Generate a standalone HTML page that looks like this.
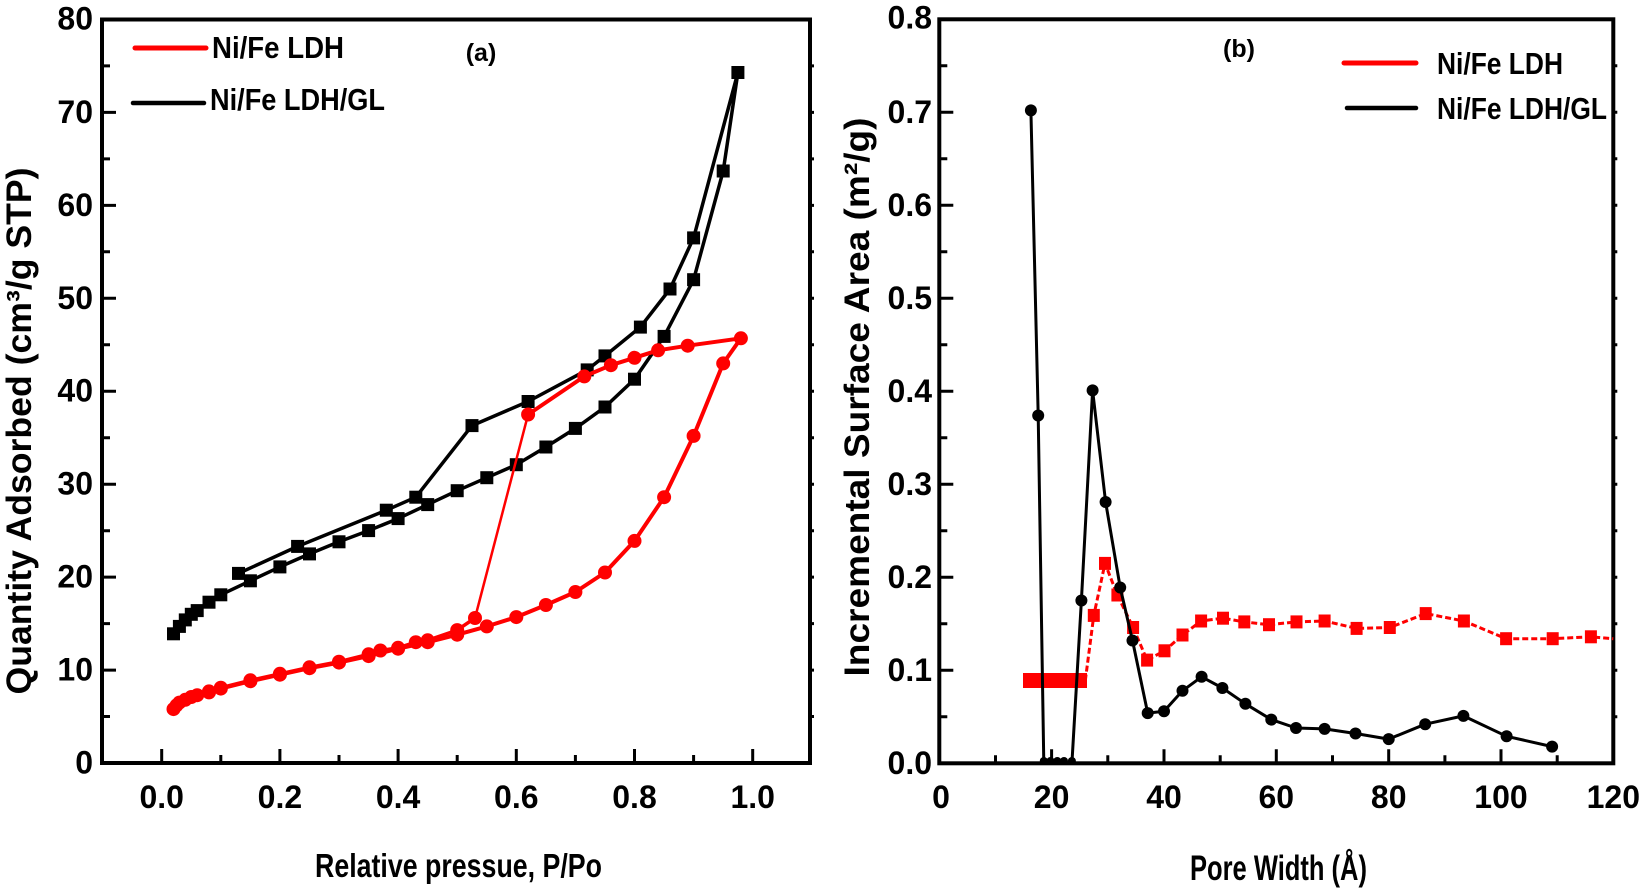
<!DOCTYPE html>
<html><head><meta charset="utf-8"><style>
html,body{margin:0;padding:0;background:#fff;}
svg{display:block;}
text{font-family:"Liberation Sans",Arial,sans-serif;font-weight:bold;fill:#000;}
</style></head><body>
<svg width="1645" height="888" viewBox="0 0 1645 888" xmlns="http://www.w3.org/2000/svg">
<rect width="1645" height="888" fill="#fff"/>

<!-- ================= PANEL A ================= -->
<rect x="102" y="19.5" width="708" height="743.5" fill="none" stroke="#000" stroke-width="4"/>
<g stroke="#000" stroke-width="3" fill="none">
<path d="M161.7 763v-14M279.9 763v-14M398.1 763v-14M516.3 763v-14M634.5 763v-14M752.7 763v-14"/>
<path d="M220.8 763v-8M339 763v-8M457.2 763v-8M575.4 763v-8M693.6 763v-8"/>
<path d="M102 670.1h14M102 577.1h14M102 484.2h14M102 391.2h14M102 298.3h14M102 205.4h14M102 112.4h14"/>
<path d="M102 716.5h8M102 623.6h8M102 530.7h8M102 437.7h8M102 344.8h8M102 251.8h8M102 158.9h8M102 65.9h8"/>
<path d="M810 716.5h4M810 670.1h4M810 623.6h4M810 577.1h4M810 530.7h4M810 484.2h4M810 437.7h4M810 391.2h4M810 344.8h4M810 298.3h4M810 251.8h4M810 205.4h4M810 158.9h4M810 112.4h4M810 65.9h4"/>
</g>
<g font-size="32" text-anchor="end">
<text x="93" y="773.5">0</text>
<text x="93" y="680.6">10</text>
<text x="93" y="587.6">20</text>
<text x="93" y="494.7">30</text>
<text x="93" y="401.7">40</text>
<text x="93" y="308.8">50</text>
<text x="93" y="215.9">60</text>
<text x="93" y="122.9">70</text>
<text x="93" y="29.5">80</text>
</g>
<g font-size="32" text-anchor="middle">
<text x="161.7" y="808">0.0</text>
<text x="279.9" y="808">0.2</text>
<text x="398.1" y="808">0.4</text>
<text x="516.3" y="808">0.6</text>
<text x="634.5" y="808">0.8</text>
<text x="752.7" y="808">1.0</text>
</g>
<text x="315" y="877" font-size="33" textLength="287" lengthAdjust="spacingAndGlyphs">Relative pressue, P/Po</text>
<text transform="translate(31,431) rotate(-90)" font-size="35" text-anchor="middle" textLength="527" lengthAdjust="spacingAndGlyphs">Quantity Adsorbed (cm³/g STP)</text>

<!-- legend a -->
<line x1="135" y1="48" x2="206" y2="48" stroke="#f00" stroke-width="5" stroke-linecap="round"/>
<text x="212" y="58" font-size="31" textLength="132" lengthAdjust="spacingAndGlyphs">Ni/Fe LDH</text>
<line x1="133" y1="103" x2="204" y2="103" stroke="#000" stroke-width="4.5" stroke-linecap="round"/>
<text x="210" y="110" font-size="31" textLength="175" lengthAdjust="spacingAndGlyphs">Ni/Fe LDH/GL</text>
<text x="481" y="61" font-size="25" text-anchor="middle">(a)</text>

<!-- black GL series panel a -->
<polyline fill="none" stroke="#000" stroke-width="3.5" stroke-linejoin="round" points="173.5,633.8 179.4,626.4 185.3,619.9 191.3,614.3 197.2,610.6 209,602.2 220.8,594.8 250.4,580.8 279.9,566.9 309.5,553.9 339,541.8 368.6,530.6 398.1,518.6 427.7,504.6 457.2,490.7 486.8,477.7 516.3,464.7 545.9,447 575.4,428.4 605,407 634.5,379.2 664.1,336.4 693.6,279.7 723.2,171 737.9,72.5 693.6,237.9 670,289 640.4,327.1 605,355.9 587.2,369.9 528.1,401.5 472,425.6 415.8,497.2 386.3,510.2 297.6,546.4 238.5,573.4"/>
<g fill="#000">
<rect x="167" y="627.3" width="13" height="13"/>
<rect x="172.9" y="619.9" width="13" height="13"/>
<rect x="178.8" y="613.4" width="13" height="13"/>
<rect x="184.8" y="607.8" width="13" height="13"/>
<rect x="190.7" y="604.1" width="13" height="13"/>
<rect x="202.5" y="595.7" width="13" height="13"/>
<rect x="214.3" y="588.3" width="13" height="13"/>
<rect x="243.9" y="574.3" width="13" height="13"/>
<rect x="273.4" y="560.4" width="13" height="13"/>
<rect x="303" y="547.4" width="13" height="13"/>
<rect x="332.5" y="535.3" width="13" height="13"/>
<rect x="362.1" y="524.1" width="13" height="13"/>
<rect x="391.6" y="512.1" width="13" height="13"/>
<rect x="421.2" y="498.1" width="13" height="13"/>
<rect x="450.7" y="484.2" width="13" height="13"/>
<rect x="480.3" y="471.2" width="13" height="13"/>
<rect x="509.8" y="458.2" width="13" height="13"/>
<rect x="539.4" y="440.5" width="13" height="13"/>
<rect x="568.9" y="421.9" width="13" height="13"/>
<rect x="598.5" y="400.5" width="13" height="13"/>
<rect x="628" y="372.7" width="13" height="13"/>
<rect x="657.6" y="329.9" width="13" height="13"/>
<rect x="687.1" y="273.2" width="13" height="13"/>
<rect x="716.7" y="164.5" width="13" height="13"/>
<rect x="731.4" y="66" width="13" height="13"/>
<rect x="687.1" y="231.4" width="13" height="13"/>
<rect x="663.5" y="282.5" width="13" height="13"/>
<rect x="633.9" y="320.6" width="13" height="13"/>
<rect x="598.5" y="349.4" width="13" height="13"/>
<rect x="580.7" y="363.4" width="13" height="13"/>
<rect x="521.6" y="395" width="13" height="13"/>
<rect x="465.5" y="419.1" width="13" height="13"/>
<rect x="409.3" y="490.7" width="13" height="13"/>
<rect x="379.8" y="503.7" width="13" height="13"/>
<rect x="291.1" y="539.9" width="13" height="13"/>
<rect x="232" y="566.9" width="13" height="13"/>
</g>

<!-- red LDH series panel a -->
<polyline fill="none" stroke="#f00" stroke-width="4" stroke-linejoin="round" points="173.5,709.1 176.5,705.4 179.4,702.6 185.3,699.8 191.3,697 197.2,695.2 209,692.4 220.8,688.6 250.4,681.2 279.9,674.7 309.5,668.2 339,662.6 368.6,656.1 398.1,648.7 427.7,642.2 457.2,634.7 486.8,626.4 516.3,617.1 545.9,605 575.4,592 605,572.5 634.5,540.9 664.1,497.2 693.6,435.9 723.2,363.4 740.9,338.3 687.7,345.7 658.1,350.3 634.5,357.8 610.9,365.2 584.3,376.4 528.1,414.5"/>
<line x1="528.1" y1="414.5" x2="475" y2="618" stroke="#f00" stroke-width="2.5"/>
<polyline fill="none" stroke="#f00" stroke-width="3.5" stroke-linejoin="round" points="475,618 457.2,630.1 427.7,640.3 415.8,642.2 398.1,647.8 380.4,650.5 368.6,654.3 339,661.7 309.5,667.3 279.9,673.8 250.4,680.3 220.8,687.7 209,691.4"/>
<g fill="#f00">
<circle cx="173.5" cy="709.1" r="7"/><circle cx="176.5" cy="705.4" r="7"/><circle cx="179.4" cy="702.6" r="7"/>
<circle cx="185.3" cy="699.8" r="7"/><circle cx="191.3" cy="697" r="7"/><circle cx="197.2" cy="695.2" r="7"/>
<circle cx="209" cy="692.4" r="7"/><circle cx="220.8" cy="688.6" r="7"/><circle cx="250.4" cy="681.2" r="7"/>
<circle cx="279.9" cy="674.7" r="7"/><circle cx="309.5" cy="668.2" r="7"/><circle cx="339" cy="662.6" r="7"/>
<circle cx="368.6" cy="656.1" r="7"/><circle cx="398.1" cy="648.7" r="7"/><circle cx="427.7" cy="642.2" r="7"/>
<circle cx="457.2" cy="634.7" r="7"/><circle cx="486.8" cy="626.4" r="7"/><circle cx="516.3" cy="617.1" r="7"/>
<circle cx="545.9" cy="605" r="7"/><circle cx="575.4" cy="592" r="7"/><circle cx="605" cy="572.5" r="7"/>
<circle cx="634.5" cy="540.9" r="7"/><circle cx="664.1" cy="497.2" r="7"/><circle cx="693.6" cy="435.9" r="7"/>
<circle cx="723.2" cy="363.4" r="7"/><circle cx="740.9" cy="338.3" r="7"/>
<circle cx="687.7" cy="345.7" r="7"/><circle cx="658.1" cy="350.3" r="7"/><circle cx="634.5" cy="357.8" r="7"/>
<circle cx="610.9" cy="365.2" r="7"/><circle cx="584.3" cy="376.4" r="7"/><circle cx="528.1" cy="414.5" r="7"/>
<circle cx="475" cy="618" r="7"/><circle cx="457.2" cy="630.1" r="7"/><circle cx="427.7" cy="640.3" r="7"/>
<circle cx="415.8" cy="642.2" r="7"/><circle cx="398.1" cy="647.8" r="7"/><circle cx="380.4" cy="650.5" r="7"/>
<circle cx="368.6" cy="654.3" r="7"/><circle cx="339" cy="661.7" r="7"/><circle cx="309.5" cy="667.3" r="7"/>
<circle cx="279.9" cy="673.8" r="7"/><circle cx="250.4" cy="680.3" r="7"/><circle cx="220.8" cy="687.7" r="7"/>
<circle cx="209" cy="691.4" r="7"/>
</g>

<!-- ================= PANEL B ================= -->
<rect x="939.3" y="19.3" width="674" height="744" fill="none" stroke="#000" stroke-width="4"/>
<g stroke="#000" stroke-width="3" fill="none">
<path d="M1051.6 763.3v-14M1164 763.3v-14M1276.3 763.3v-14M1388.7 763.3v-14M1501 763.3v-14"/>
<path d="M995.5 763.3v-8M1107.8 763.3v-8M1220.2 763.3v-8M1332.5 763.3v-8M1444.9 763.3v-8M1557.2 763.3v-8"/>
<path d="M939.3 670.3h14M939.3 577.3h14M939.3 484.3h14M939.3 391.3h14M939.3 298.3h14M939.3 205.3h14M939.3 112.3h14"/>
<path d="M939.3 716.8h8M939.3 623.8h8M939.3 530.8h8M939.3 437.8h8M939.3 344.8h8M939.3 251.8h8M939.3 158.8h8M939.3 65.8h8"/>
<path d="M1613.3 716.8h4M1613.3 670.3h4M1613.3 623.8h4M1613.3 577.3h4M1613.3 530.8h4M1613.3 484.3h4M1613.3 437.8h4M1613.3 391.3h4M1613.3 344.8h4M1613.3 298.3h4M1613.3 251.8h4M1613.3 205.3h4M1613.3 158.8h4M1613.3 112.3h4M1613.3 65.8h4"/>
</g>
<g font-size="32" text-anchor="end">
<text x="932" y="773.8">0.0</text>
<text x="932" y="680.8">0.1</text>
<text x="932" y="587.8">0.2</text>
<text x="932" y="494.8">0.3</text>
<text x="932" y="401.8">0.4</text>
<text x="932" y="308.8">0.5</text>
<text x="932" y="215.8">0.6</text>
<text x="932" y="122.8">0.7</text>
<text x="932" y="28.5">0.8</text>
</g>
<g font-size="32" text-anchor="middle">
<text x="941" y="808">0</text>
<text x="1051.6" y="808">20</text>
<text x="1164" y="808">40</text>
<text x="1276.3" y="808">60</text>
<text x="1388.7" y="808">80</text>
<text x="1501" y="808">100</text>
<text x="1613.3" y="808">120</text>
</g>
<text x="1190" y="880" font-size="35" textLength="177" lengthAdjust="spacingAndGlyphs">Pore Width (Å)</text>
<text transform="translate(869,397) rotate(-90)" font-size="35" text-anchor="middle" textLength="559" lengthAdjust="spacingAndGlyphs">Incremental Surface Area (m²/g)</text>

<text x="1239" y="57" font-size="25" text-anchor="middle">(b)</text>
<line x1="1344" y1="63" x2="1416" y2="63" stroke="#f00" stroke-width="5" stroke-linecap="round"/>
<text x="1437" y="74" font-size="31" textLength="126" lengthAdjust="spacingAndGlyphs">Ni/Fe LDH</text>
<line x1="1347" y1="108" x2="1416" y2="108" stroke="#000" stroke-width="4.5" stroke-linecap="round"/>
<text x="1437" y="119" font-size="31" textLength="170" lengthAdjust="spacingAndGlyphs">Ni/Fe LDH/GL</text>

<!-- red LDH panel b -->
<polyline fill="none" stroke="#f00" stroke-width="3" stroke-dasharray="6 3" stroke-linejoin="round" points="1085.3,680.5 1093.8,615.4 1105,563.4 1117.4,595 1133.1,627.5 1147.1,660.1 1164.5,650.8 1182.5,635 1201.1,621 1223,618.2 1244.3,621.9 1269,624.7 1296.5,621.9 1324.6,621 1356.6,628.4 1389.8,627.5 1425.7,613.6 1463.9,621 1506.1,638.7 1552.7,638.7 1590.9,636.8 1613.3,638.7"/>
<rect x="1023" y="673" width="64" height="15" fill="#f00"/>
<g fill="#f00">
<rect x="1087.8" y="608.9" width="12" height="13"/>
<rect x="1099" y="556.9" width="12" height="13"/>
<rect x="1111.4" y="588.5" width="12" height="13"/>
<rect x="1127.1" y="621" width="12" height="13"/>
<rect x="1141.1" y="653.6" width="12" height="13"/>
<rect x="1158.5" y="644.3" width="12" height="13"/>
<rect x="1176.5" y="628.5" width="12" height="13"/>
<rect x="1195.1" y="614.5" width="12" height="13"/>
<rect x="1217" y="611.7" width="12" height="13"/>
<rect x="1238.3" y="615.4" width="12" height="13"/>
<rect x="1263" y="618.2" width="12" height="13"/>
<rect x="1290.5" y="615.4" width="12" height="13"/>
<rect x="1318.6" y="614.5" width="12" height="13"/>
<rect x="1350.6" y="621.9" width="12" height="13"/>
<rect x="1383.8" y="621" width="12" height="13"/>
<rect x="1419.7" y="607.1" width="12" height="13"/>
<rect x="1457.9" y="614.5" width="12" height="13"/>
<rect x="1500.1" y="632.2" width="12" height="13"/>
<rect x="1546.7" y="632.2" width="12" height="13"/>
<rect x="1584.9" y="630.3" width="12" height="13"/>
</g>

<!-- black GL panel b -->
<polyline fill="none" stroke="#000" stroke-width="3" stroke-linejoin="round" points="1030.9,110.4 1038.2,415.5 1043.8,763.3 1050.5,763.3 1057.3,763.3 1064,763.3 1071.9,763.3 1081.4,600.5 1092.6,390.4 1105.6,502 1120.2,587.5 1132.5,640.5 1147.7,713.1 1164,711.2 1182.5,690.8 1201.6,676.8 1222.4,688 1245.4,703.8 1271.3,719.6 1296,728 1324.6,728.9 1355.5,733.5 1388.7,739.1 1425.2,724.2 1463.4,715.9 1506.6,736.3 1552.1,746.6"/>
<g fill="#000">
<circle cx="1030.9" cy="110.4" r="6"/><circle cx="1038.2" cy="415.5" r="6"/>
<circle cx="1043.8" cy="761" r="4"/><circle cx="1050.5" cy="761" r="4"/><circle cx="1057.3" cy="761" r="4"/><circle cx="1064" cy="761" r="4"/><circle cx="1071.9" cy="761" r="4"/>
<circle cx="1081.4" cy="600.5" r="6"/><circle cx="1092.6" cy="390.4" r="6"/><circle cx="1105.6" cy="502" r="6"/>
<circle cx="1120.2" cy="587.5" r="6"/><circle cx="1132.5" cy="640.5" r="6"/><circle cx="1147.7" cy="713.1" r="6"/>
<circle cx="1164" cy="711.2" r="6"/><circle cx="1182.5" cy="690.8" r="6"/><circle cx="1201.6" cy="676.8" r="6"/>
<circle cx="1222.4" cy="688" r="6"/><circle cx="1245.4" cy="703.8" r="6"/><circle cx="1271.3" cy="719.6" r="6"/>
<circle cx="1296" cy="728" r="6"/><circle cx="1324.6" cy="728.9" r="6"/><circle cx="1355.5" cy="733.5" r="6"/>
<circle cx="1388.7" cy="739.1" r="6"/><circle cx="1425.2" cy="724.2" r="6"/><circle cx="1463.4" cy="715.9" r="6"/>
<circle cx="1506.6" cy="736.3" r="6"/><circle cx="1552.1" cy="746.6" r="6"/>
</g>
</svg>
</body></html>
